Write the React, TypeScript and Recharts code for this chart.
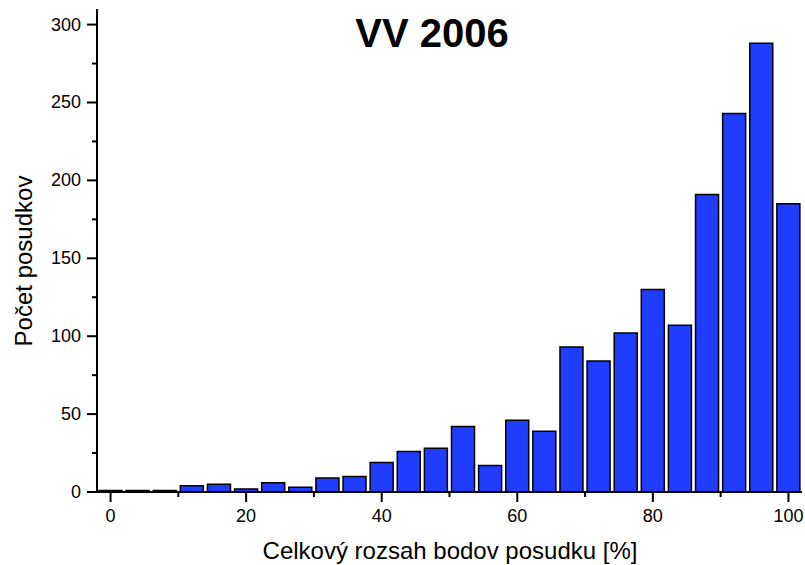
import React from "react";
import { BarChart, Bar, XAxis, YAxis } from "recharts";

const binCenters = [0, 4, 8, 12, 16, 20, 24, 28, 32, 36, 40, 44, 48, 52, 56, 60, 64, 68, 72, 76, 80, 84, 88, 92, 96, 100];
const counts = [1, 1, 1, 4, 5, 2, 6, 3, 9, 10, 19, 26, 28, 42, 17, 46, 39, 93, 84, 102, 130, 107, 191, 243, 288, 185];
const xTicks = [0, 10, 20, 30, 40, 50, 60, 70, 80, 90, 100];
const yTicks = [0, 25, 50, 75, 100, 125, 150, 175, 200, 225, 250, 275, 300];

const title = "VV 2006";
const xLabel = "Celkový rozsah bodov posudku [%]";
const yLabel = "Počet posudkov";

const data = binCenters.map((x, i) => ({ x, count: counts[i] }));

const FONT = "'Liberation Sans', Arial, sans-serif";

const XTick = (props: any) => {
  const { x, y, payload } = props;
  const major = payload.value % 20 === 0;
  return (
    <g>
      <line x1={x} x2={x} y1={y} y2={y + (major ? 10 : 5)} stroke="#000" strokeWidth={2} />
      {major && (
        <text x={x} y={y + 30} textAnchor="middle" fontSize={18} fontFamily={FONT} fill="#000">
          {payload.value}
        </text>
      )}
    </g>
  );
};

const YTick = (props: any) => {
  const { x, y, payload } = props;
  const major = payload.value % 50 === 0;
  return (
    <g>
      <line x1={x} x2={x - (major ? 10 : 5)} y1={y} y2={y} stroke="#000" strokeWidth={2} />
      {major && (
        <text x={x - 16} y={y + 6} textAnchor="end" fontSize={18} fontFamily={FONT} fill="#000">
          {payload.value}
        </text>
      )}
    </g>
  );
};

export default function App() {
  return (
    <div style={{ position: "absolute", left: 0, top: 0, width: 805, height: 565, background: "#fff" }}>
      <BarChart
        width={805}
        height={565}
        data={data}
        margin={{ top: 9, right: 3, bottom: 43, left: 37 }}
        barGap={0}
      >
        <XAxis
          dataKey="x"
          type="number"
          domain={[-2, 102]}
          ticks={xTicks}
          interval={0}
          tick={<XTick />}
          tickLine={false}
          tickSize={0}
          tickMargin={0}
          axisLine={{ stroke: "#000", strokeWidth: 2 }}
          height={30}
          allowDataOverflow
        />
        <YAxis
          type="number"
          domain={[0, 310]}
          ticks={yTicks}
          interval={0}
          tick={<YTick />}
          tickLine={false}
          tickSize={0}
          tickMargin={0}
          axisLine={{ stroke: "#000", strokeWidth: 2 }}
          width={60}
          allowDataOverflow
        />
        <Bar dataKey="count" fill="#1f3cff" stroke="#000" strokeWidth={1.5} barSize={23} isAnimationActive={false} />
      </BarChart>
      <svg width={805} height={565} style={{ position: "absolute", left: 0, top: 0, pointerEvents: "none" }}>
        <text x={432} y={47} textAnchor="middle" fontSize={40} fontWeight="bold" fontFamily={FONT} fill="#000">
          {title}
        </text>
        <text x={450} y={559} textAnchor="middle" fontSize={24} fontFamily={FONT} fill="#000">
          {xLabel}
        </text>
        <text
          x={0}
          y={0}
          transform="translate(32,261) rotate(-90)"
          textAnchor="middle"
          fontSize={24}
          fontFamily={FONT}
          fill="#000"
        >
          {yLabel}
        </text>
      </svg>
    </div>
  );
}
